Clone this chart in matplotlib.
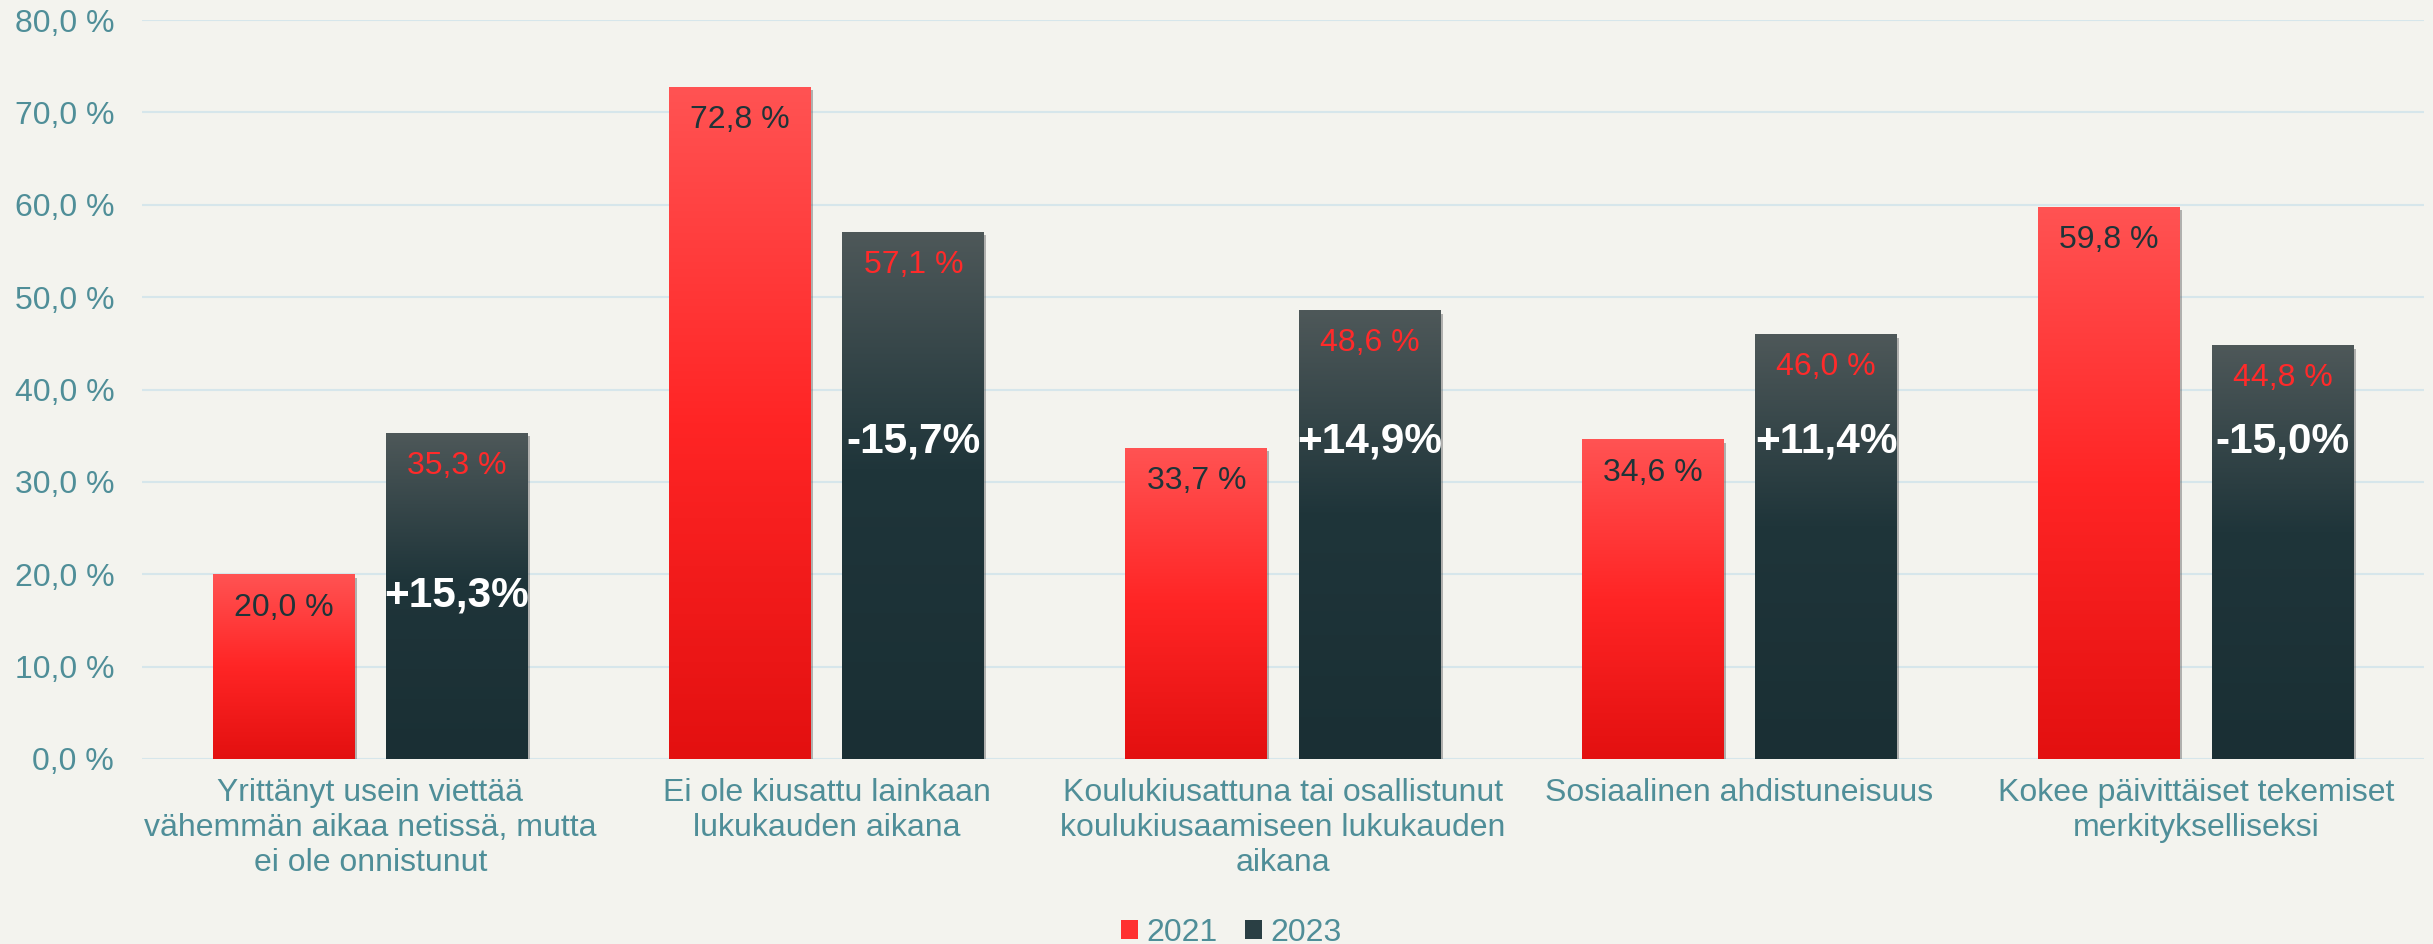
import numpy as np
import matplotlib
matplotlib.use("Agg")
import matplotlib.pyplot as plt
from matplotlib.colors import LinearSegmentedColormap
from matplotlib.patches import Patch
import matplotlib.patheffects as pe

# ---------------- data ----------------
categories = [
    "Yrittänyt usein viettää\nvähemmän aikaa netissä, mutta\nei ole onnistunut",
    "Ei ole kiusattu lainkaan\nlukukauden aikana",
    "Koulukiusattuna tai osallistunut\nkoulukiusaamiseen lukukauden\naikana",
    "Sosiaalinen ahdistuneisuus",
    "Kokee päivittäiset tekemiset\nmerkitykselliseksi",
]
values_2021 = [20.0, 72.8, 33.7, 34.6, 59.8]
values_2023 = [35.3, 57.1, 48.6, 46.0, 44.8]
series_names = ["2021", "2023"]
yticks = [0, 10, 20, 30, 40, 50, 60, 70, 80]

# ---------------- style ----------------
BG = "#F3F3EE"
TEAL = "#4F8E98"
GRID = "#D6E6EB"
RED_LBL = "#FF2A2A"
DARK_LBL = "#1E3438"
FS = 23
plt.rcParams["font.family"] = ["Liberation Sans", "DejaVu Sans"]

red_cmap = LinearSegmentedColormap.from_list(
    "red", [(0, "#FF5353"), (0.5, "#FF2525"), (1, "#E31010")])
dark_cmap = LinearSegmentedColormap.from_list(
    "dark", [(0, "#4E5859"), (0.45, "#1F353A"), (1, "#1A2F34")])

fig = plt.figure(figsize=(24.33, 9.44), dpi=100, facecolor=BG)
ax = fig.add_axes([142 / 2433, 185 / 944, 2282 / 2433, 739 / 944])
ax.set_facecolor(BG)

x = np.arange(len(categories))
w = 0.311
off = 0.19

grad = np.linspace(0, 1, 256).reshape(-1, 1)


def gradient_bars(xs, vals, cmap):
    bars = ax.bar(xs, vals, width=w, color=cmap(0.5), zorder=3, linewidth=0)
    for b in bars:
        b.set_path_effects([pe.SimplePatchShadow(offset=(1.5, -2.5), shadow_rgbFace="#606060", alpha=0.45),
                            pe.Normal()])
        x0, y0 = b.get_x(), b.get_y()
        im = ax.imshow(grad, cmap=cmap, aspect="auto", origin="upper",
                       extent=[x0, x0 + b.get_width(), y0, y0 + b.get_height()],
                       zorder=4, interpolation="bilinear")
        im.set_clip_path(b)
    return bars


bars21 = gradient_bars(x - off, values_2021, red_cmap)
bars23 = gradient_bars(x + off, values_2023, dark_cmap)

fmt = lambda v: f"{v:.1f}".replace(".", ",") + " %"

for xi, v in zip(x - off, values_2021):
    ax.annotate(fmt(v), (xi, v), xytext=(0, -24), textcoords="offset points",
                ha="center", va="center", fontsize=FS, color=DARK_LBL, zorder=6)
for xi, v in zip(x + off, values_2023):
    ax.annotate(fmt(v), (xi, v), xytext=(0, -24), textcoords="offset points",
                ha="center", va="center", fontsize=FS, color=RED_LBL, zorder=6)

# change labels (placed by hand in the original)
delta_y = [17.7, 34.4, 34.4, 34.4, 34.4]
for xi, a, b, yy in zip(x + off, values_2021, values_2023, delta_y):
    d = b - a
    txt = ("+" if d > 0 else "-") + f"{abs(d):.1f}".replace(".", ",") + "%"
    ax.text(xi, yy, txt, ha="center", va="center", fontsize=30.5, fontweight="bold",
            color="white", zorder=7)

ax.set_xlim(-0.5, len(categories) - 0.5)
ax.set_ylim(0, 80)
ax.set_yticks(yticks)
ax.set_yticklabels([f"{t:.1f}".replace(".", ",") + " %" for t in yticks])
ax.set_xticks(x)
ax.set_xticklabels(categories, linespacing=1.2)
ax.tick_params(axis="y", length=0, pad=20, labelsize=FS, labelcolor=TEAL)
ax.tick_params(axis="x", length=0, pad=14, labelsize=FS, labelcolor=TEAL)
ax.grid(axis="y", color=GRID, linewidth=1.5, zorder=0)
ax.set_axisbelow(True)
for s in ax.spines.values():
    s.set_visible(False)

handles = [Patch(facecolor="#FF3030", label=series_names[0]),
           Patch(facecolor="#2A3F44", label=series_names[1])]
fig.legend(handles=handles, loc="center", bbox_to_anchor=(1231 / 2433, 11 / 944),
           ncol=2, frameon=False, fontsize=FS, labelcolor=TEAL,
           handlelength=0.55, handleheight=0.55, handletextpad=0.25,
           columnspacing=0.85, borderpad=0, borderaxespad=0)

fig.savefig("out.png", dpi=100, facecolor=BG)
